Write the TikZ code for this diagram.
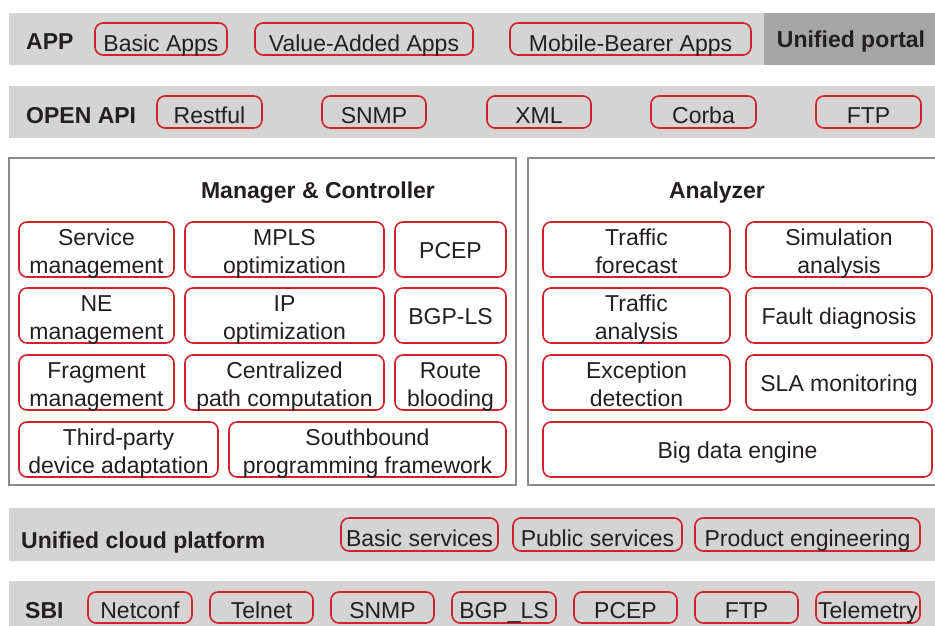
\documentclass[tikz,border=0pt]{standalone}
\usepackage{fontspec}
\setmainfont{Liberation Sans}
\definecolor{bandgray}{RGB}{212,212,212}
\definecolor{portalgray}{RGB}{166,166,166}
\definecolor{boxred}{RGB}{208,34,42}
\definecolor{framegray}{RGB}{140,140,140}
\definecolor{txt}{RGB}{35,31,32}
% single line with given reported height (baseline sits height/2 below centre)
\newcommand\Lb[2]{\raisebox{0pt}[#1][0pt]{#2}}
% two centred lines, 28pt apart, last baseline 23.5pt below centre
\newcommand\Lt[2]{\raisebox{0pt}[47pt][0pt]{\vbox{\baselineskip=28pt\halign{\hfil##\hfil\cr#1\cr#2\cr}}}}
\newcommand\rbox[6]{\node[rbx, minimum width={#4-#2}, minimum height={#5-#3}] (#1) at ({(#2+#4)/2},{(#3+#5)/2}) {#6};}
\begin{document}
\begin{tikzpicture}[x=1pt,y=-1pt,
  every node/.style={text=txt, font=\fontsize{23}{28}\selectfont},
  rbx/.style={draw=boxred, line width=1.6pt, rounded corners=8pt, inner sep=0pt},
  band/.style={fill=bandgray, draw=none},
  frame/.style={draw=framegray, line width=2pt, fill=white},
  lbl/.style={anchor=base west, inner sep=0pt, font=\bfseries\fontsize{23}{28}\selectfont},
  ttl/.style={anchor=base, inner sep=0pt, font=\bfseries\fontsize{23}{28}\selectfont}]
\useasboundingbox (0,0) rectangle (935,626);
\clip (0,0) rectangle (935,626);

% ---------- APP ----------
\fill[bandgray] (9,13) rectangle (935,65);
\fill[portalgray] (764,13) rectangle (935,65);
\node[lbl] (app) at (26,49.5) {APP};
\node[ttl] (portal) at (851,48) {Unified portal};
\rbox{basicapps}{95}{23}{227}{55}{\Lb{26pt}{Basic Apps}}
\rbox{vaapps}{255}{23}{473}{55}{\Lb{26pt}{Value-Added Apps}}
\rbox{mbapps}{510}{23}{751}{55}{\Lb{26pt}{Mobile-Bearer Apps}}

% ---------- OPEN API ----------
\fill[bandgray] (9,86) rectangle (935,138);
\node[lbl] (openapi) at (26,124) {OPEN API};
\rbox{restful}{157}{96}{262}{128}{\Lb{24pt}{Restful}}
\rbox{snmpa}{322}{96}{426}{128}{\Lb{24pt}{SNMP}}
\rbox{xml}{487}{96}{591}{128}{\Lb{24pt}{XML}}
\rbox{corba}{651}{96}{756}{128}{\Lb{24pt}{Corba}}
\rbox{ftpa}{816}{96}{921}{128}{\Lb{24pt}{FTP}}

% ---------- Manager & Controller ----------
\draw[frame] (9,158) rectangle (516,485);
\node[ttl] (mctitle) at (318,198) {Manager \& Controller};
\rbox{svc}{19}{222}{174}{277}{\Lt{Service}{management}}
\rbox{mpls}{185}{222}{384}{277}{\Lt{MPLS}{optimization}}
\rbox{pcepm}{395}{222}{506}{277}{\Lb{17pt}{PCEP}}
\rbox{ne}{19}{288}{174}{343}{\Lt{NE}{management}}
\rbox{ipopt}{185}{288}{384}{343}{\Lt{IP}{optimization}}
\rbox{bgpls}{395}{288}{506}{343}{\Lb{17pt}{BGP-LS}}
\rbox{frag}{19}{355}{174}{410}{\Lt{Fragment}{management}}
\rbox{cpc}{185}{355}{384}{410}{\Lt{Centralized}{path computation}}
\rbox{route}{395}{355}{506}{410}{\Lt{Route}{blooding}}
\rbox{third}{19}{422}{218}{477}{\Lt{Third-party}{device adaptation}}
\rbox{south}{229}{422}{506}{477}{\Lt{Southbound}{programming framework}}

% ---------- Analyzer ----------
\draw[frame] (528,158) rectangle (950,485);
\node[ttl] (antitle) at (717,198) {Analyzer};
\rbox{tf}{543}{222}{730}{277}{\Lt{Traffic}{forecast}}
\rbox{sim}{746}{222}{932}{277}{\Lt{Simulation}{analysis}}
\rbox{ta}{543}{288}{730}{343}{\Lt{Traffic}{analysis}}
\rbox{fault}{746}{288}{932}{343}{\Lb{17pt}{Fault diagnosis}}
\rbox{exc}{543}{355}{730}{410}{\Lt{Exception}{detection}}
\rbox{sla}{746}{355}{932}{410}{\Lb{17pt}{SLA monitoring}}
\rbox{bigdata}{543}{422}{932}{477}{\Lb{17pt}{Big data engine}}

% ---------- Unified cloud platform ----------
\fill[bandgray] (9,508) rectangle (935,561);
\node[lbl] (ucp) at (21,548) {Unified cloud platform};
\rbox{bsvc}{341}{518}{498}{551}{\Lb{24pt}{Basic services}}
\rbox{psvc}{513}{518}{682}{551}{\Lb{24pt}{Public services}}
\rbox{peng}{695}{518}{920}{551}{\Lb{24pt}{Product engineering}}

% ---------- SBI ----------
\fill[bandgray] (9,581) rectangle (935,640);
\node[lbl] (sbi) at (25,618) {SBI};
\rbox{netconf}{88}{592}{192}{623}{\Lb{21pt}{Netconf}}
\rbox{telnet}{210}{592}{313}{623}{\Lb{21pt}{Telnet}}
\rbox{snmps}{331}{592}{434}{623}{\Lb{21pt}{SNMP}}
\rbox{bgpls2}{452}{592}{556}{623}{\Lb{21pt}{BGP\_LS}}
\rbox{pceps}{574}{592}{677}{623}{\Lb{21pt}{PCEP}}
\rbox{ftps}{695}{592}{798}{623}{\Lb{21pt}{FTP}}
\rbox{telem}{816}{592}{920}{623}{\Lb{21pt}{Telemetry}}
\end{tikzpicture}
\end{document}
